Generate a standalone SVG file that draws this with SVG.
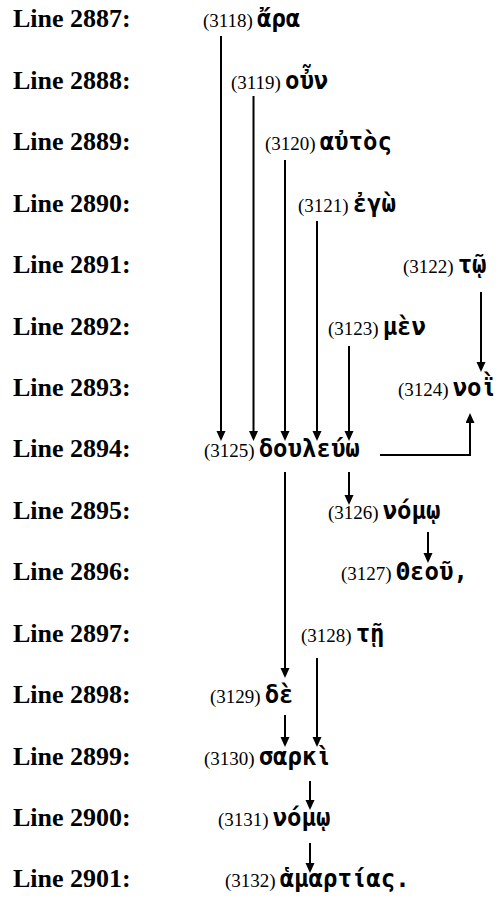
<svg xmlns="http://www.w3.org/2000/svg" width="501" height="903" viewBox="0 0 501 903">
<style>
.lbl{font-family:"Liberation Serif","Times New Roman",serif;font-weight:bold;font-size:26px;fill:#000}
.num{font-family:"Liberation Serif","Times New Roman",serif;font-size:19px;fill:#000}
.gk{font-family:"DejaVu Sans Mono","Liberation Mono",monospace;font-weight:bold;font-size:24px;fill:#000}
.c{fill:none;stroke:#000;stroke-width:2}
</style>
<defs>
<marker id="ah" markerUnits="userSpaceOnUse" markerWidth="10" markerHeight="10" refX="0" refY="4.5" orient="auto">
<path d="M0,0 L10,4.5 L0,9 z" fill="#000"/>
</marker>
</defs>
<rect width="501" height="903" fill="#fff"/>
<g id="labels">
<text class="lbl" x="13" y="27">Line 2887:</text>
<text class="lbl" x="13" y="88.5">Line 2888:</text>
<text class="lbl" x="13" y="150">Line 2889:</text>
<text class="lbl" x="13" y="211.5">Line 2890:</text>
<text class="lbl" x="13" y="273">Line 2891:</text>
<text class="lbl" x="13" y="334.5">Line 2892:</text>
<text class="lbl" x="13" y="396">Line 2893:</text>
<text class="lbl" x="13" y="457">Line 2894:</text>
<text class="lbl" x="13" y="518.5">Line 2895:</text>
<text class="lbl" x="13" y="580">Line 2896:</text>
<text class="lbl" x="13" y="641.5">Line 2897:</text>
<text class="lbl" x="13" y="703">Line 2898:</text>
<text class="lbl" x="13" y="764.5">Line 2899:</text>
<text class="lbl" x="13" y="826">Line 2900:</text>
<text class="lbl" x="13" y="887">Line 2901:</text>
</g>
<g id="n3118"><text x="203" y="27"><tspan class="num">(3118)</tspan> <tspan class="gk">ἄρα</tspan></text></g>
<g id="n3119"><text x="231" y="88.5"><tspan class="num">(3119)</tspan> <tspan class="gk">οὖν</tspan></text></g>
<g id="n3120"><text x="265" y="150"><tspan class="num">(3120)</tspan> <tspan class="gk">αὐτὸς</tspan></text></g>
<g id="n3121"><text x="298" y="211.5"><tspan class="num">(3121)</tspan> <tspan class="gk">ἐγὼ</tspan></text></g>
<g id="n3122"><text x="403" y="273"><tspan class="num">(3122)</tspan> <tspan class="gk">τῷ</tspan></text></g>
<g id="n3123"><text x="328" y="334.5"><tspan class="num">(3123)</tspan> <tspan class="gk">μὲν</tspan></text></g>
<g id="n3124"><text x="398" y="396"><tspan class="num">(3124)</tspan> <tspan class="gk">νοῒ</tspan></text></g>
<g id="n3125"><text x="204" y="457"><tspan class="num">(3125)</tspan> <tspan class="gk">δουλεύω</tspan></text></g>
<g id="n3126"><text x="328" y="518.5"><tspan class="num">(3126)</tspan> <tspan class="gk">νόμῳ</tspan></text></g>
<g id="n3127"><text x="341" y="580"><tspan class="num">(3127)</tspan> <tspan class="gk">Θεοῦ,</tspan></text></g>
<g id="n3128"><text x="301" y="641.5"><tspan class="num">(3128)</tspan> <tspan class="gk">τῇ</tspan></text></g>
<g id="n3129"><text x="210" y="703"><tspan class="num">(3129)</tspan> <tspan class="gk">δὲ</tspan></text></g>
<g id="n3130"><text x="204" y="764.5"><tspan class="num">(3130)</tspan> <tspan class="gk">σαρκὶ</tspan></text></g>
<g id="n3131"><text x="218" y="826"><tspan class="num">(3131)</tspan> <tspan class="gk">νόμῳ</tspan></text></g>
<g id="n3132"><text x="225" y="887"><tspan class="num">(3132)</tspan> <tspan class="gk">ἁμαρτίας.</tspan></text></g>
<g id="connectors">
<path class="c" marker-end="url(#ah)" d="M221,36 V431"/>
<path class="c" marker-end="url(#ah)" d="M253.5,96 V431"/>
<path class="c" marker-end="url(#ah)" d="M285,160 V431"/>
<path class="c" marker-end="url(#ah)" d="M317,221 V431"/>
<path class="c" marker-end="url(#ah)" d="M349,346 V431"/>
<path class="c" marker-end="url(#ah)" d="M481,292 V362"/>
<path class="c" marker-end="url(#ah)" d="M380,455 H470 V423"/>
<path class="c" marker-end="url(#ah)" d="M349,472 V495"/>
<path class="c" marker-end="url(#ah)" d="M428,532 V553"/>
<path class="c" marker-end="url(#ah)" d="M285,472 V668"/>
<path class="c" marker-end="url(#ah)" d="M317,658 V737"/>
<path class="c" marker-end="url(#ah)" d="M285,715 V737"/>
<path class="c" marker-end="url(#ah)" d="M310,781 V800"/>
<path class="c" marker-end="url(#ah)" d="M310,843 V863"/>
</g>
</svg>
